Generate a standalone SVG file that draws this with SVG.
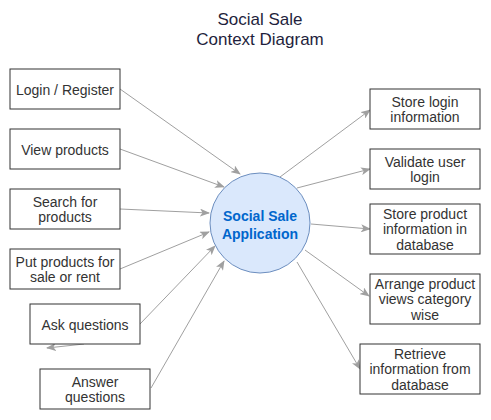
<svg xmlns="http://www.w3.org/2000/svg" width="491" height="420" viewBox="0 0 491 420">
<defs>
<style>
.box{fill:#ffffff;stroke:#333333;stroke-width:1}
.t{font-family:"Liberation Sans",Arial,sans-serif;font-size:14px;fill:#333333;text-anchor:middle}
.title{font-family:"Liberation Sans",Arial,sans-serif;font-size:17px;fill:#1f1f3d;text-anchor:middle}
.c{font-family:"Liberation Sans",Arial,sans-serif;font-size:14px;font-weight:bold;fill:#0066cc;text-anchor:middle}
.edge{fill:none;stroke:#a0a0a0;stroke-width:1;marker-end:url(#arr)}
</style>
<marker id="arr" viewBox="0 0 10 8" refX="9" refY="4" markerWidth="10" markerHeight="8" markerUnits="userSpaceOnUse" orient="auto">
<path d="M0,0 L10,4 L0,8 L2.5,4 Z" fill="#a0a0a0"/>
</marker>
</defs>
<rect width="491" height="420" fill="#ffffff"/>
<g id="title">
<text class="title" x="260" y="25">Social Sale</text>
<text class="title" x="260" y="45">Context Diagram</text>
</g>
<g id="connectors">
<line class="edge" x1="120" y1="89" x2="240" y2="174"/>
<line class="edge" x1="120" y1="149" x2="224" y2="187"/>
<line class="edge" x1="120" y1="209" x2="209" y2="213"/>
<line class="edge" x1="120" y1="269" x2="209" y2="232"/>
<line class="edge" x1="140" y1="324" x2="215" y2="246"/>
<line class="edge" x1="84" y1="344" x2="47" y2="348"/>
<line class="edge" x1="151" y1="388" x2="224" y2="261"/>
<line class="edge" x1="280" y1="177" x2="370" y2="110"/>
<line class="edge" x1="297" y1="188" x2="370" y2="169"/>
<line class="edge" x1="311" y1="224" x2="370" y2="229"/>
<line class="edge" x1="305" y1="250" x2="369" y2="296"/>
<line class="edge" x1="297" y1="262" x2="360" y2="369"/>
</g>
<g id="center">
<circle cx="260" cy="223" r="50" fill="#dae8fc" stroke="#6c8ebf" stroke-width="1"/>
<text class="c" x="260" y="221">Social Sale</text>
<text class="c" x="260" y="239">Application</text>
</g>
<g id="login-register">
<rect class="box" x="10" y="69" width="110" height="40"/>
<text class="t" x="65" y="94.5">Login / Register</text>
</g>
<g id="view-products">
<rect class="box" x="10" y="129" width="110" height="40"/>
<text class="t" x="65" y="154.5">View products</text>
</g>
<g id="search-products">
<rect class="box" x="10" y="189" width="110" height="40"/>
<text class="t" x="65" y="206.5">Search for</text>
<text class="t" x="65" y="222">products</text>
</g>
<g id="put-products">
<rect class="box" x="10" y="249" width="110" height="40"/>
<text class="t" x="65" y="266.5">Put products for</text>
<text class="t" x="65" y="282">sale or rent</text>
</g>
<g id="ask-questions">
<rect class="box" x="30" y="304" width="110" height="40"/>
<text class="t" x="85" y="329.5">Ask questions</text>
</g>
<g id="answer-questions">
<rect class="box" x="40" y="369" width="110" height="40"/>
<text class="t" x="95" y="386.5">Answer</text>
<text class="t" x="95" y="402">questions</text>
</g>
<g id="store-login">
<rect class="box" x="370" y="89" width="110" height="40"/>
<text class="t" x="425" y="106.5">Store login</text>
<text class="t" x="425" y="122">information</text>
</g>
<g id="validate-login">
<rect class="box" x="370" y="149" width="110" height="40"/>
<text class="t" x="425" y="166.5">Validate user</text>
<text class="t" x="425" y="182">login</text>
</g>
<g id="store-product">
<rect class="box" x="370" y="204" width="110" height="50"/>
<text class="t" x="425" y="218.5">Store product</text>
<text class="t" x="425" y="234">information in</text>
<text class="t" x="425" y="249.5">database</text>
</g>
<g id="arrange-product">
<rect class="box" x="370" y="274" width="110" height="50"/>
<text class="t" x="425" y="288.5">Arrange product</text>
<text class="t" x="425" y="304">views category</text>
<text class="t" x="425" y="319.5">wise</text>
</g>
<g id="retrieve-info">
<rect class="box" x="360" y="344" width="120" height="50"/>
<text class="t" x="420" y="358.5">Retrieve</text>
<text class="t" x="420" y="374">information from</text>
<text class="t" x="420" y="389.5">database</text>
</g>
</svg>
